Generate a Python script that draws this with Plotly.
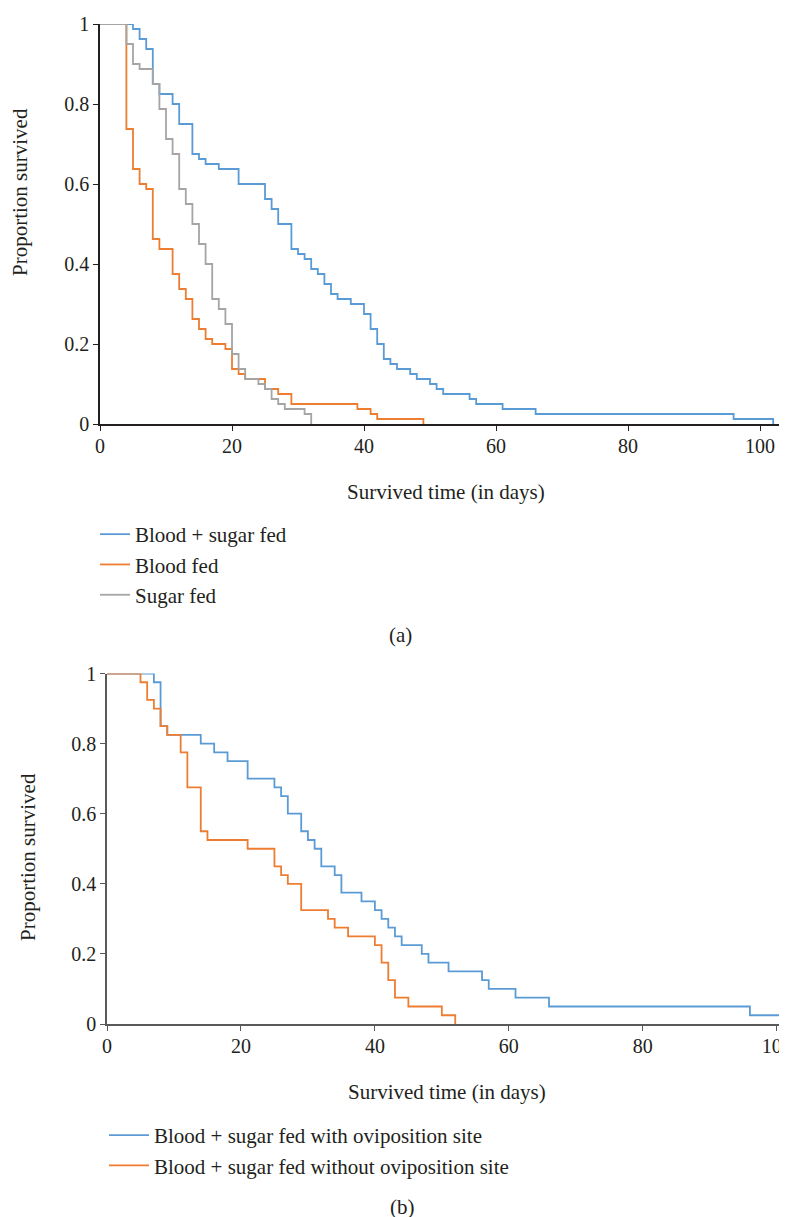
import plotly.graph_objects as go

# ---------------- Data ----------------
# (a) top panel
a_blood_sugar_days = [0, 5, 6, 7, 8, 9, 11, 12, 14, 15, 16, 18, 21, 25, 26, 27, 29, 30, 31, 32, 33,
                      34, 35, 36, 38, 40, 41, 42, 43, 44, 45, 47, 48, 50, 51, 52, 56, 57, 61, 66, 96, 102]
a_blood_sugar_surv = [1, 0.9875, 0.9625, 0.9375, 0.85, 0.825, 0.8, 0.75, 0.675, 0.6625, 0.65, 0.6375,
                      0.6, 0.5625, 0.5375, 0.5, 0.4375, 0.425, 0.4125, 0.3875, 0.375, 0.35, 0.325,
                      0.3125, 0.3, 0.275, 0.2375, 0.2, 0.1625, 0.15, 0.1375, 0.125, 0.1125, 0.1,
                      0.0875, 0.075, 0.0625, 0.05, 0.0375, 0.025, 0.0125, 0]

a_blood_days = [0, 4, 5, 6, 7, 8, 9, 11, 12, 13, 14, 15, 16, 17, 19, 20, 21, 22, 25, 27, 29, 39, 41, 42, 49]
a_blood_surv = [1, 0.7375, 0.6375, 0.6, 0.5875, 0.4625, 0.4375, 0.375, 0.3375, 0.3125, 0.2625, 0.2375,
                0.2125, 0.2, 0.1875, 0.1375, 0.125, 0.1125, 0.0875, 0.075, 0.05, 0.0375, 0.025, 0.0125, 0]

a_sugar_days = [0, 4, 5, 6, 8, 9, 10, 11, 12, 13, 14, 15, 16, 17, 18, 19, 20, 21, 22, 24, 25, 26, 27, 28, 31, 32]
a_sugar_surv = [1, 0.95, 0.9, 0.8875, 0.85, 0.7875, 0.7125, 0.675, 0.5875, 0.55, 0.5, 0.45, 0.4, 0.3125,
                0.2875, 0.25, 0.175, 0.1375, 0.1125, 0.1, 0.0875, 0.0625, 0.05, 0.0375, 0.025, 0]

# (b) bottom panel
b_with_days = [0, 7, 8, 9, 14, 16, 18, 21, 25, 26, 27, 29, 30, 31, 32, 34, 35, 38, 40, 41, 42, 43, 44,
               47, 48, 51, 56, 57, 61, 66, 96, 102]
b_with_surv = [1, 0.975, 0.85, 0.825, 0.8, 0.775, 0.75, 0.7, 0.675, 0.65, 0.6, 0.55, 0.525, 0.5, 0.45,
               0.425, 0.375, 0.35, 0.325, 0.3, 0.275, 0.25, 0.225, 0.2, 0.175, 0.15, 0.125, 0.1,
               0.075, 0.05, 0.025, 0]

b_without_days = [0, 5, 6, 7, 8, 9, 11, 12, 14, 15, 21, 25, 26, 27, 29, 33, 34, 36, 40, 41, 42, 43, 45, 50, 52]
b_without_surv = [1, 0.975, 0.925, 0.9, 0.85, 0.825, 0.775, 0.675, 0.55, 0.525, 0.5, 0.45, 0.425, 0.4,
                  0.325, 0.3, 0.275, 0.25, 0.225, 0.175, 0.125, 0.075, 0.05, 0.025, 0]

x_ticks = [0, 20, 40, 60, 80, 100]
y_ticks = [0, 0.2, 0.4, 0.6, 0.8, 1]
y_tick_text = ["0", "0.2", "0.4", "0.6", "0.8", "1"]

BLUE = "#5B9BD5"
ORANGE = "#ED7D31"
GRAY = "#A5A5A5"
TXT = "#231F20"
FONT = "Liberation Serif"

W, H = 787, 1217
OFF = 8  # page body margin of the written html

fig = go.Figure()

def add(xs, ys, name, color, xa, ya, legend):
    fig.add_trace(go.Scatter(
        x=xs, y=ys, mode="lines", line=dict(color=color, width=1.8, shape="hv"),
        name=name, xaxis=xa, yaxis=ya, legend=legend, cliponaxis=False))

add(a_blood_sugar_days, a_blood_sugar_surv, "Blood + sugar fed", BLUE, "x", "y", "legend")
add(a_blood_days, a_blood_surv, "Blood fed", ORANGE, "x", "y", "legend")
add(a_sugar_days, a_sugar_surv, "Sugar fed", GRAY, "x", "y", "legend")
add(b_with_days, b_with_surv, "Blood + sugar fed with oviposition site", BLUE, "x2", "y2", "legend2")
add(b_without_days, b_without_surv, "Blood + sugar fed without oviposition site", ORANGE, "x2", "y2", "legend2")

# convert page-pixel positions to paper fractions
def fx(p):
    return (p - OFF) / W

def fy(p):
    return 1 - (p - OFF) / H

tickfont = dict(family=FONT, size=20, color=TXT)

common_x = dict(tickvals=x_ticks, ticks="outside", ticklen=5, tickwidth=1.2,
                showgrid=False, zeroline=False, showline=True, linewidth=1.5,
                tickfont=tickfont, ticklabelstandoff=-2, automargin=False)
common_y = dict(tickvals=y_ticks, ticktext=y_tick_text, ticks="outside", ticklen=5, tickwidth=1.2,
                showgrid=False, zeroline=False, showline=True, linewidth=1.5,
                tickfont=tickfont, ticklabelstandoff=0, range=[0, 1], automargin=False)

# top x axis: day 0 at page x 100, 6.6 px/day; bottom: day 0 at 107, 6.697 px/day
right_page = W + OFF
fig.update_layout(
    template="none",
    width=W, height=H,
    margin=dict(l=0, r=0, t=0, b=0, pad=0, autoexpand=False),
    paper_bgcolor="white", plot_bgcolor="white",
    font=dict(family=FONT, color=TXT, size=21),
    xaxis=dict(domain=[fx(100), 1], range=[0, (right_page - 100) / 6.6], anchor="y",
               linecolor="#231F20", tickcolor="#231F20", **common_x),
    yaxis=dict(domain=[fy(424), fy(24)], anchor="x",
               linecolor="#231F20", tickcolor="#231F20", **common_y),
    xaxis2=dict(domain=[fx(107), 1], range=[0, (right_page - 107) / 6.697], anchor="y2",
                linecolor="#595959", tickcolor="#595959", **common_x),
    yaxis2=dict(domain=[fy(1024), fy(673.5)], anchor="x2",
                linecolor="#595959", tickcolor="#595959", **common_y),
    legend=dict(x=fx(95), y=fy(514), xanchor="left", yanchor="top",
                font=dict(family=FONT, size=21, color=TXT), itemwidth=30,
                bgcolor="rgba(0,0,0,0)", tracegroupgap=0),
    legend2=dict(x=fx(104), y=fy(1115), xanchor="left", yanchor="top",
                 font=dict(family=FONT, size=21, color=TXT), itemwidth=40,
                 bgcolor="rgba(0,0,0,0)", tracegroupgap=0),
    showlegend=True,
)

ann = [
    dict(text="Proportion survived", x=fx(20), y=fy(192), textangle=-90),
    dict(text="Survived time (in days)", x=fx(446), y=fy(492)),
    dict(text="(a)", x=fx(400), y=fy(635)),
    dict(text="Proportion survived", x=fx(28), y=fy(857), textangle=-90),
    dict(text="Survived time (in days)", x=fx(447), y=fy(1092)),
    dict(text="(b)", x=fx(403), y=fy(1207)),
]
for a in ann:
    fig.add_annotation(xref="paper", yref="paper", showarrow=False,
                       xanchor="center", yanchor="middle",
                       font=dict(family=FONT, size=21, color=TXT), **a)

fig.write_html("out.html")
